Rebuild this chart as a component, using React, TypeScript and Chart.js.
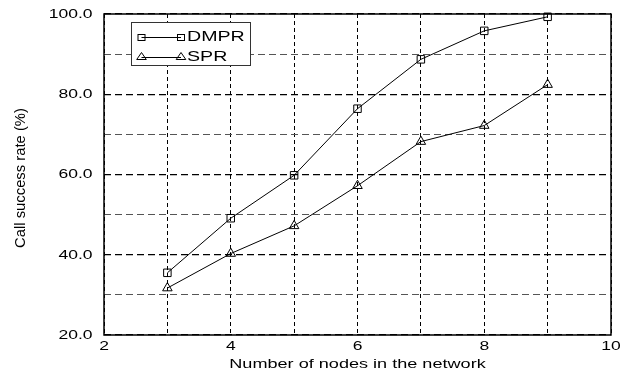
import { useEffect, useRef } from 'react';
import { Chart, registerables } from 'chart.js';

Chart.register(...registerables);

const nodeCounts = [3, 4, 5, 6, 7, 8, 9];
const dmprRates = [35.5, 49.1, 59.8, 76.4, 88.7, 95.8, 99.3];
const sprRates = [31.7, 40.3, 47.2, 57.2, 68.2, 72.2, 82.4];
const seriesNames = ['DMPR', 'SPR'];
const xTickValues = [2, 4, 6, 8, 10];
const xTickLabels = ['2', '4', '6', '8', '10'];
const yTickValues = [20, 40, 60, 80, 100];
const yTickLabels = ['20.0', '40.0', '60.0', '80.0', '100.0'];
const xTitle = 'Number of nodes in the network';
const yTitle = 'Call success rate (%)';

const FONT = '"Liberation Sans", Arial, sans-serif';

function drawText(
  ctx: CanvasRenderingContext2D,
  text: string,
  x: number,
  y: number,
  size: number,
  sx: number,
  align: CanvasTextAlign,
  rotate = 0,
  sy = 1
) {
  ctx.save();
  ctx.font = `${size}px ${FONT}`;
  ctx.fillStyle = '#000';
  ctx.textAlign = align;
  ctx.textBaseline = 'middle';
  ctx.translate(x, y);
  if (rotate) ctx.rotate(rotate);
  ctx.scale(sx, sy);
  ctx.fillText(text, 0, 0);
  ctx.restore();
}

function legendSquare(ctx: CanvasRenderingContext2D, x: number, y: number) {
  ctx.strokeRect(x - 3.5, y - 3, 7, 6);
}
function legendTriangle(ctx: CanvasRenderingContext2D, x: number, y: number) {
  ctx.beginPath();
  ctx.moveTo(x, y - 4);
  ctx.lineTo(x + 4.8, y + 3);
  ctx.lineTo(x - 4.8, y + 3);
  ctx.closePath();
  ctx.stroke();
}

const customPlugin = {
  id: 'customDecor',
  afterDraw(chart: any) {
    const { ctx, chartArea: a, scales } = chart;
    const xs = scales.x;
    const ys = scales.y;

    // frame
    ctx.save();
    ctx.setLineDash([]);
    ctx.strokeStyle = '#000';
    ctx.lineWidth = 1.5;
    ctx.strokeRect(a.left, a.top, a.right - a.left, a.bottom - a.top);
    ctx.restore();

    // tick labels
    yTickValues.forEach((v, i) =>
      drawText(ctx, yTickLabels[i], a.left - 11.5, ys.getPixelForValue(v) + 0.5, 12.5, 1.4, 'right')
    );
    xTickValues.forEach((v, i) =>
      drawText(ctx, xTickLabels[i], xs.getPixelForValue(v), a.bottom + 12, 12.5, 1.4, 'center')
    );

    // titles
    drawText(ctx, xTitle, (a.left + a.right) / 2, a.bottom + 29, 13.5, 1.34, 'center');
    drawText(ctx, yTitle, 21, (a.top + a.bottom) / 2 + 3.5, 14.8, 1, 'center', -Math.PI / 2, 1.05);

    // legend
    ctx.save();
    ctx.setLineDash([]);
    ctx.fillStyle = '#fff';
    ctx.fillRect(131.5, 22.5, 119, 43);
    ctx.strokeStyle = '#333';
    ctx.lineWidth = 1;
    ctx.strokeRect(131.5, 22.5, 119, 43);
    ctx.strokeStyle = '#000';
    const rows = [37.5, 57.5];
    rows.forEach((ry, i) => {
      ctx.beginPath();
      ctx.moveTo(141.5, ry);
      ctx.lineTo(181, ry);
      ctx.stroke();
      if (i === 0) {
        legendSquare(ctx, 141.5, ry);
        legendSquare(ctx, 181, ry);
      } else {
        legendTriangle(ctx, 141.5, ry - 1);
        legendTriangle(ctx, 181, ry - 1);
      }
    });
    ctx.restore();
    seriesNames.forEach((name, i) => drawText(ctx, name, 187, rows[i], 14, 1.4, 'left'));
  },
};

export default function App() {
  const ref = useRef<HTMLCanvasElement | null>(null);

  useEffect(() => {
    if (!ref.current) return;
    const chart = new Chart(ref.current, {
      type: 'line',
      data: {
        datasets: [
          {
            label: seriesNames[0],
            data: nodeCounts.map((x, i) => ({ x, y: dmprRates[i] })),
            borderColor: '#000',
            borderWidth: 1,
            pointStyle: 'rect',
            pointRadius: 5.3,
            pointBorderColor: '#000',
            pointBackgroundColor: 'rgba(0,0,0,0)',
            pointBorderWidth: 1,
            tension: 0,
            clip: false,
          },
          {
            label: seriesNames[1],
            data: nodeCounts.map((x, i) => ({ x, y: sprRates[i] })),
            borderColor: '#000',
            borderWidth: 1,
            pointStyle: 'triangle',
            pointRadius: 5.5,
            pointBorderColor: '#000',
            pointBackgroundColor: 'rgba(0,0,0,0)',
            pointBorderWidth: 1,
            tension: 0,
            clip: false,
          },
        ],
      },
      options: {
        animation: false,
        responsive: false,
        events: [],
        layout: { padding: { left: 0, top: 14, right: 15, bottom: 0 } },
        plugins: {
          legend: { display: false },
          tooltip: { enabled: false },
        },
        scales: {
          x: {
            type: 'linear',
            min: 2,
            max: 10,
            ticks: { stepSize: 1, display: false },
            grid: { color: '#000', lineWidth: 1, drawTicks: false },
            border: { display: false, dash: [4, 3] },
            afterFit: (s: any) => {
              s.height = 38;
            },
          },
          y: {
            type: 'linear',
            min: 20,
            max: 100,
            ticks: { stepSize: 10, display: false },
            grid: {
              color: (c: any) => (c.tick && c.tick.value % 20 === 0 ? '#000' : '#555'),
              lineWidth: (c: any) => (c.tick && c.tick.value % 20 === 0 ? 1.3 : 1),
              drawTicks: false,
            },
            border: { display: false, dash: [7, 4] },
            afterFit: (s: any) => {
              s.width = 104;
            },
          },
        },
      },
      plugins: [customPlugin],
    });
    return () => chart.destroy();
  }, []);

  return (
    <div style={{ position: 'absolute', left: 0, top: 0, width: 626, height: 373, background: '#fff' }}>
      <canvas ref={ref} width={626} height={373} />
    </div>
  );
}
